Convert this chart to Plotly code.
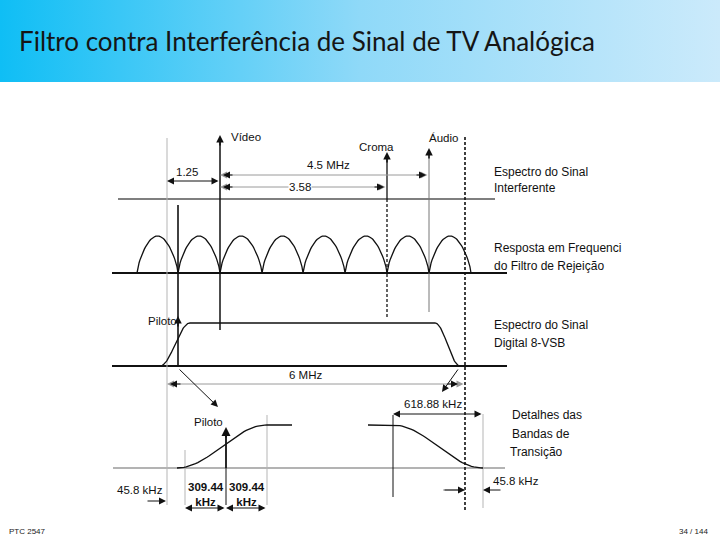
import numpy as np
import plotly.graph_objects as go

# ---------------- data (diagram units on a 720x540 canvas) ----------------
title_text = "Filtro contra Interferência de Sinal de TV Analógica"
footer_left = "PTC 2547"
footer_right = "34 / 144"

# carriers of the analog TV interfering signal
carrier_names = ["Vídeo", "Croma", "Áudio"]
carrier_x = [220, 387, 429]
carrier_top = [135, 152, 148]

# comb filter nulls (frequency response of the rejection filter)
filter_nulls = [137, 178, 220, 262, 303, 345, 387, 429, 471]

# panel baselines
panel_base = [199, 273, 366, 468]

# 8-VSB spectrum break points
vsb_left = [160, 190]
vsb_right = [435, 460]
pilot_x = 178

# transition band details
trans_left = [177, 267, 292]
trans_right = [368, 393, 483]
pilot_detail_x = 226

# dimension labels
dim_labels = ["1.25", "4.5 MHz", "3.58", "6 MHz", "618.88 kHz", "309.44<br>kHz", "45.8 kHz"]

side_labels = [
    ("Espectro do Sinal", 172), ("Interferente", 188),
    ("Resposta em Frequenci", 248), ("do Filtro de Rejeição", 266),
    ("Espectro do Sinal", 325), ("Digital 8-VSB", 343),
]
detail_labels = [("Detalhes das", 415), ("Bandas de", 434), ("Transição", 452)]

# ---------------- figure ----------------
fig = go.Figure()
BLACK = "#111111"
GRAY = "#9a9a9a"
FONT = "Liberation Sans, Arial, sans-serif"

def line(xs, ys, color=BLACK, width=1.2, dash="solid"):
    fig.add_trace(go.Scatter(x=xs, y=ys, mode="lines", hoverinfo="skip",
                             line=dict(color=color, width=width, dash=dash),
                             showlegend=False))

def arrow(x, y, ax, ay, color=BLACK, width=1, both=False, size=1.4):
    fig.add_annotation(x=x, y=y, ax=ax, ay=ay, xref="x", yref="y", axref="x", ayref="y",
                       text="", showarrow=True, arrowhead=2, startarrowhead=2,
                       arrowside="end+start" if both else "end",
                       arrowsize=size, startarrowsize=size,
                       arrowwidth=width, arrowcolor=color, standoff=0, startstandoff=0)

def text(x, y, s, size=11.5, anchor="left", bold=False, color=BLACK, bg=None, family=FONT):
    fig.add_annotation(x=x, y=y, xref="x", yref="y", text=f"<b>{s}</b>" if bold else s,
                       showarrow=False, xanchor=anchor, yanchor="middle",
                       font=dict(family=family, size=size, color=color),
                       bgcolor=bg, borderpad=0)

# header banner (gradient)
fig.add_trace(go.Scatter(x=[0, 720, 720, 0, 0], y=[0, 0, 82, 82, 0], mode="lines",
                         fill="toself", line=dict(width=0), hoverinfo="skip", showlegend=False,
                         fillgradient=dict(type="horizontal",
                                           colorscale=[[0, "#0fbef5"], [0.5, "#8fd9f8"], [1, "#cbeafb"]])))

# baselines
line([118, 495], [panel_base[0]] * 2, color="#555555", width=1.3)
line([112, 507], [panel_base[1]] * 2, width=2)
line([112, 507], [panel_base[2]] * 2, width=2)
line([113, 505], [panel_base[3]] * 2, color=GRAY, width=1.5)

# vertical guides
line([167, 167], [138, 505], color="#b5b5b5", width=1)
line([465, 465], [137, 510], width=1.6, dash="3px,2px")

# carriers
line([carrier_x[0]] * 2, [carrier_top[0] + 4, 330], width=1.5)
arrow(carrier_x[0], carrier_top[0], carrier_x[0], carrier_top[0] + 12, width=1.5, size=1)
line([carrier_x[1]] * 2, [carrier_top[1] + 4, panel_base[0]], width=1.3)
line([carrier_x[1]] * 2, [panel_base[0], 317], width=1.3, dash="3px,2px")
arrow(carrier_x[1], carrier_top[1], carrier_x[1], carrier_top[1] + 12, width=1.5, size=1)
line([carrier_x[2]] * 2, [carrier_top[2] + 4, 312], color="#777777", width=1)
arrow(carrier_x[2], carrier_top[2], carrier_x[2], carrier_top[2] + 12, width=1.5, size=1)
text(230, 137, carrier_names[0])
text(376, 147, carrier_names[1], anchor="center")
text(443, 138, carrier_names[2], anchor="center")

# comb filter response
fx, fy = [], []
for a, b in zip(filter_nulls[:-1], filter_nulls[1:]):
    t = np.linspace(0, 1, 40)
    fx += list(a + (b - a) * t)
    fy += list(panel_base[1] - 37 * np.sin(np.pi * t) ** 0.7)
line(fx, fy, width=1.3)

# pilot line through filter & VSB panel
line([pilot_x, pilot_x], [205, panel_base[2]], width=1.6)
arrow(pilot_x, 316, pilot_x, 328, width=1.5, size=1)
text(147, 321, "Piloto")

# 8-VSB spectrum
H = panel_base[2] - 323
t = np.linspace(0, 1, 40)
vx = list(vsb_left[0] + (vsb_left[1] - vsb_left[0]) * t) + list(vsb_right[0] + (vsb_right[1] - vsb_right[0]) * t)
vy = list(panel_base[2] - H * (0.5 - 0.5 * np.cos(np.pi * t))) + list(panel_base[2] - H * (0.5 + 0.5 * np.cos(np.pi * t)))
line(vx, vy, width=1.3)

# top dimension lines
arrow(167, 181, 220, 181, both=True, width=1)
text(187, 172, dim_labels[0], anchor="center")
arrow(220, 175, 429, 175, both=True, color=GRAY, width=1)
arrow(223, 175, 234, 175, width=1)
arrow(426, 175, 415, 175, width=1)
text(328, 165, dim_labels[1], anchor="center")
arrow(220, 187, 387, 187, both=True, color=GRAY, width=1)
arrow(223, 187, 234, 187, width=1)
arrow(384, 187, 373, 187, width=1)
text(300, 187, dim_labels[2], anchor="center", bg="white")

# 6 MHz
arrow(167, 384, 465, 384, both=True, color=GRAY, width=1)
arrow(170, 384, 182, 384, width=1)
arrow(458, 384, 446, 384, width=1)
text(305, 375, dim_labels[3], anchor="center")

# diagonal pointers
arrow(218, 407, 178, 368, width=1)
arrow(442, 392, 459, 368, width=1)

# transition details: left (pilot)
line([185, 185], [450, 505], color="#b5b5b5", width=1)
line([267, 267], [415, 505], color="#b5b5b5", width=1)
Ht = panel_base[3] - 425
lx = list(trans_left[0] + (trans_left[1] - trans_left[0]) * t) + [trans_left[2]]
ly = list(panel_base[3] - Ht * (0.5 - 0.5 * np.cos(np.pi * t))) + [425]
line(lx, ly, width=1.3)
line([pilot_detail_x] * 2, [432, panel_base[3]], width=1.8)
line([pilot_detail_x] * 2, [panel_base[3], 505], width=1)
arrow(pilot_detail_x, 427, pilot_detail_x, 439, width=1.8, size=1)
text(193, 422, "Piloto")
arrow(185, 508, 226, 508, both=True, width=1)
arrow(226, 508, 267, 508, both=True, width=1)
text(206, 494, dim_labels[5], anchor="center", bold=True)
text(247, 494, dim_labels[5], anchor="center", bold=True)
text(116, 490, dim_labels[6])
arrow(166, 501, 146, 501, width=1)

# transition details: right
line([393, 393], [415, 497], width=1)
line([483, 483], [414, 508], color="#b5b5b5", width=1)
rx = [trans_right[0]] + list(trans_right[1] + (trans_right[2] - trans_right[1]) * t)
ry = [425] + list(panel_base[3] - Ht * (0.5 + 0.5 * np.cos(np.pi * t)))
line(rx, ry, width=1.3)
arrow(393, 414, 483, 414, both=True, width=1)
text(433, 404, dim_labels[4], anchor="center")
arrow(465, 490, 443, 490, width=1)
arrow(483, 490, 502, 490, width=1)
line([443, 465], [490, 490], color=GRAY, width=1)
text(492, 481, dim_labels[6])

# side labels
for s, y in side_labels:
    text(493, y, s, size=12)
for s, y in detail_labels:
    text(511 if s != "Transição" else 509, y, s, size=12)

# header & footer
text(18, 41, title_text, size=26, color="#151515", family="Lato, Open Sans, sans-serif")
fig.add_annotation(x=7, y=531, xref="x", yref="y", text=footer_left, showarrow=False,
                   xanchor="left", yanchor="middle", font=dict(family=FONT, size=8, color="#222"))
fig.add_annotation(x=710, y=531, xref="x", yref="y", text=footer_right, showarrow=False,
                   xanchor="right", yanchor="middle", font=dict(family=FONT, size=8, color="#222"))

fig.update_layout(width=720, height=540, margin=dict(l=0, r=0, t=0, b=0),
                  paper_bgcolor="white", plot_bgcolor="white", showlegend=False,
                  xaxis=dict(range=[0, 720], visible=False, fixedrange=True),
                  yaxis=dict(range=[540, 0], visible=False, fixedrange=True))
fig.write_html("out.html", config={"displayModeBar": False},
               post_script="document.body.style.margin='0';document.body.style.overflow='hidden';")
